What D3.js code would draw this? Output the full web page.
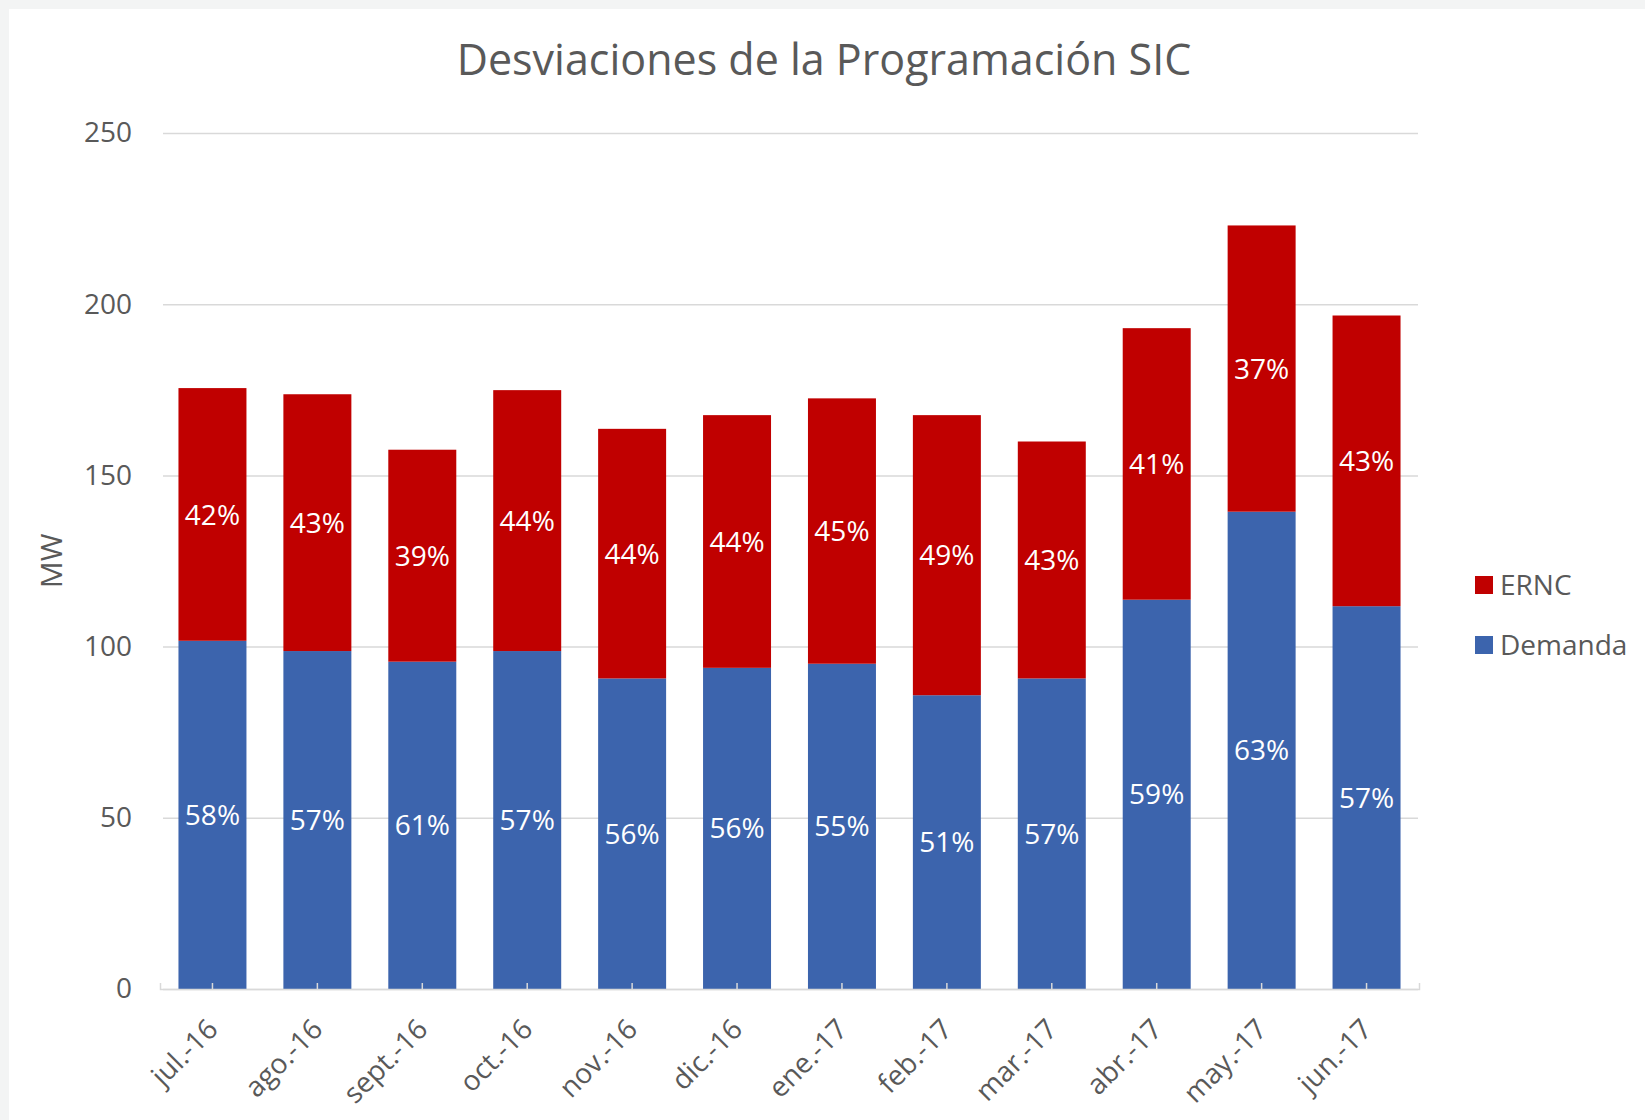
<!DOCTYPE html>
<html lang="es">
  <head>
    <meta charset="utf-8">
    <script src="https://d3js.org/d3.v7.min.js"></script>
    <style>
      body { margin: 0; background: #f3f4f4; }
      text { font-family: "Open Sans", "Noto Sans", sans-serif; }
    </style>
  </head>
  <body>
    <svg id="chart" width="1645" height="1120"></svg>
    <script>
      // values (MW)
      let months = ["jul.-16", "ago.-16", "sept.-16", "oct.-16", "nov.-16", "dic.-16", "ene.-17", "feb.-17", "mar.-17", "abr.-17", "may.-17", "jun.-17"]
      let demanda = [101.7, 98.7, 95.6, 98.7, 90.7, 93.8, 95.0, 85.8, 90.7, 113.7, 139.4, 111.8]
      let ernc = [73.8, 75.0, 61.9, 76.2, 72.9, 73.8, 77.5, 81.8, 69.2, 79.3, 83.6, 84.9]
      let demandaPct = ["58%", "57%", "61%", "57%", "56%", "56%", "55%", "51%", "57%", "59%", "63%", "57%"]
      let erncPct = ["42%", "43%", "39%", "44%", "44%", "44%", "45%", "49%", "43%", "41%", "37%", "43%"]
      let yTicks = [0, 50, 100, 150, 200, 250]

      let red = "#c00000"
      let blue = "#3c64ad"
      let grey = "#595959"

      let svg = d3.select("#chart")
      svg.append("rect").attr("x", 9).attr("y", 9).attr("width", 1636).attr("height", 1111).attr("fill", "#fff")

      let x = d3.scaleBand().domain(months).range([160, 1419]).paddingInner(0.352).paddingOuter(0.176)
      let y = d3.scaleLinear().domain([0, 250]).range([989, 133])

      // title
      svg.append("text").attr("x", 824).attr("y", 75).attr("text-anchor", "middle")
        .attr("font-size", 43).attr("fill", grey).text("Desviaciones de la Programación SIC")

      // gridlines + y labels
      let yAxis = svg.append("g").attr("transform", "translate(163,0)")
        .call(d3.axisLeft(y).tickValues(yTicks).tickSize(-1255).tickPadding(31))
      yAxis.select(".domain").remove()
      yAxis.selectAll(".tick line").attr("stroke", "#d9d9d9").attr("stroke-width", 1.5)
      yAxis.selectAll(".tick text").attr("font-size", 28).attr("fill", grey).attr("font-family", "Open Sans")

      svg.append("text").attr("transform", "translate(62,561) rotate(-90)").attr("text-anchor", "middle")
        .attr("font-size", 30).attr("fill", grey).text("MW")

      // stacked bars
      let rows = months.map((m, i) => ({month: m, Demanda: demanda[i], ERNC: ernc[i], i: i}))
      let stack = d3.stack().keys(["Demanda", "ERNC"])(rows)
      let colors = {Demanda: blue, ERNC: red}
      let pcts = {Demanda: demandaPct, ERNC: erncPct}

      let layers = svg.selectAll(".layer").data(stack).enter().append("g").attr("class", "layer").attr("fill", d => colors[d.key])
      layers.selectAll("rect").data(d => d).enter().append("rect")
        .attr("x", d => x(d.data.month)).attr("width", x.bandwidth())
        .attr("y", d => y(d[1])).attr("height", d => y(d[0]) - y(d[1]))

      // percentage labels in the middle of each piece
      stack.forEach(layer => {
        svg.append("g").selectAll("text").data(layer).enter().append("text")
          .attr("x", d => x(d.data.month) + x.bandwidth() / 2)
          .attr("y", d => y((d[0] + d[1]) / 2))
          .attr("dy", "0.36em").attr("text-anchor", "middle")
          .attr("font-size", 28).attr("fill", "#fff")
          .text(d => pcts[layer.key][d.data.i])
      })

      // category axis drawn on top so the little ticks show over the bars
      let xAxis = svg.append("g").attr("transform", "translate(0,989)")
        .call(d3.axisBottom(x).tickSizeInner(-6).tickSizeOuter(-6).tickPadding(0))
      xAxis.select(".domain").attr("stroke", "#d9d9d9").attr("stroke-width", 1.5)
      xAxis.selectAll(".tick line").attr("stroke", "#d9d9d9").attr("stroke-width", 1.5)
      xAxis.selectAll(".tick text").attr("font-size", 28).attr("fill", grey).attr("font-family", "Open Sans")
        .attr("text-anchor", "end").attr("dy", 0)
        .attr("transform", "translate(7,42) rotate(-45)")

      // legend
      let legend = svg.append("g").selectAll("g").data(["ERNC", "Demanda"]).enter().append("g")
        .attr("transform", (d, i) => `translate(1475,${585 + i * 60})`)
      legend.append("rect").attr("x", 0).attr("y", -9).attr("width", 18).attr("height", 18).attr("fill", d => colors[d])
      legend.append("text").attr("x", 25).attr("dy", "0.36em").attr("font-size", 28).attr("fill", grey).text(d => d)
    </script>
  </body>
</html>
